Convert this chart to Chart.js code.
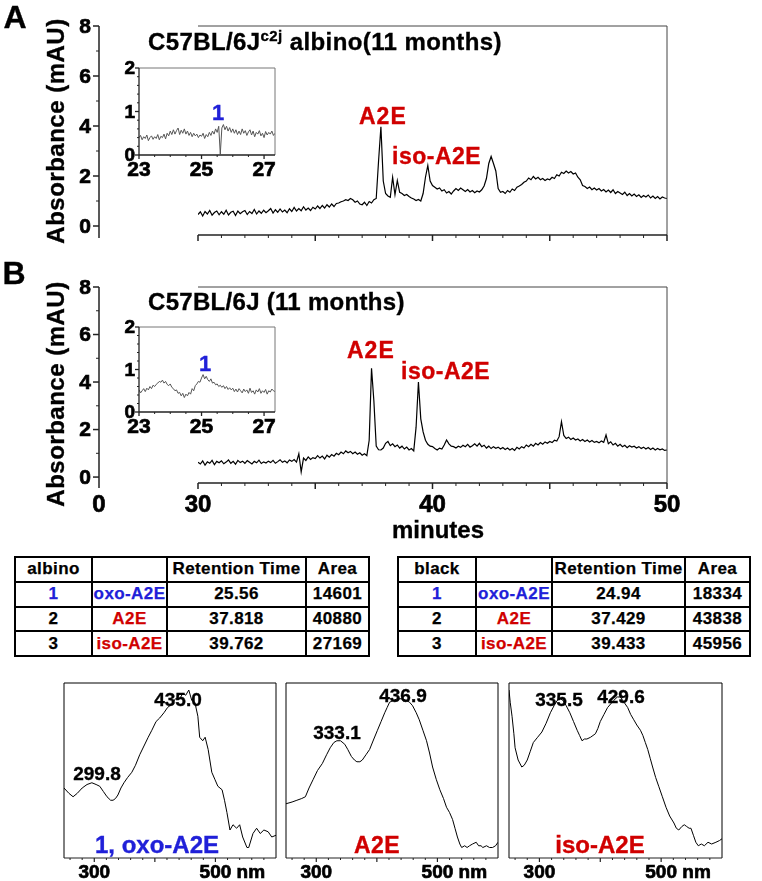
<!DOCTYPE html>
<html>
<head>
<meta charset="utf-8">
<script src="https://cdn.jsdelivr.net/npm/chart.js@4.4.1/dist/chart.umd.min.js"></script>
<style>
body{margin:0;background:#fff;}
#fig{position:relative;width:762px;height:881px;overflow:hidden;background:#fff;
  font-family:"Liberation Sans",Arial,sans-serif;font-weight:bold;color:#000;}
canvas{position:absolute;}
.t,.l{position:absolute;white-space:nowrap;line-height:1;-webkit-text-stroke:0.35px currentColor;}
.t{transform:translate(-50%,-50%);}
.l{transform:translateY(-50%);}
.red{color:#d00000;}
.blue{color:#2020d8;}
table{position:absolute;border-collapse:collapse;table-layout:fixed;font-size:17px;letter-spacing:0.4px;}
td{border:2px solid #000;text-align:center;padding:0;height:24.75px;box-sizing:border-box;-webkit-text-stroke:0.25px currentColor;}
</style>
</head>
<body>
<div id="fig">
  <canvas id="chromA" width="700" height="250" style="left:0px;top:0px"></canvas>
  <canvas id="chromB" width="700" height="280" style="left:0px;top:260px"></canvas>
  <canvas id="insetA" width="200" height="130" style="left:100px;top:55px"></canvas>
  <canvas id="insetB" width="200" height="130" style="left:100px;top:314px"></canvas>
  <canvas id="spec1" width="250" height="211" style="left:40px;top:670px"></canvas>
  <canvas id="spec2" width="250" height="211" style="left:262px;top:670px"></canvas>
  <canvas id="spec3" width="250" height="211" style="left:485px;top:670px"></canvas>

  <div class="t" style="left:15px;top:17px;font-size:32px">A</div>
  <div class="t" style="left:14px;top:273px;font-size:32px">B</div>
  <div class="t" style="left:56px;top:131px;font-size:24px;letter-spacing:0.5px;transform:translate(-50%,-50%) rotate(-90deg)">Absorbance (mAU)</div>
  <div class="t" style="left:56px;top:394px;font-size:24px;letter-spacing:0.5px;transform:translate(-50%,-50%) rotate(-90deg)">Absorbance (mAU)</div>
  <div class="l" style="left:148px;top:42px;font-size:24px;letter-spacing:0.4px">C57BL/6J<span style="font-size:15px;position:relative;top:-9px">c2j</span> albino(11 months)</div>
  <div class="l" style="left:148px;top:302px;font-size:24px;letter-spacing:0.3px">C57BL/6J (11 months)</div>
  <div class="l red" style="left:359px;top:116px;font-size:23px;letter-spacing:1px">A2E</div>
  <div class="l red" style="left:392px;top:156px;font-size:23px;letter-spacing:0.5px">iso-A2E</div>
  <div class="l red" style="left:347px;top:350px;font-size:23px;letter-spacing:1px">A2E</div>
  <div class="l red" style="left:401px;top:371px;font-size:23px;letter-spacing:0.5px">iso-A2E</div>
  <div class="t blue" style="left:218px;top:113px;font-size:22px">1</div>
  <div class="t blue" style="left:205px;top:364px;font-size:22px">1</div>
  <div class="t" style="left:438px;top:530px;font-size:24px">minutes</div>

  <div class="t" style="left:97px;top:773px;font-size:19px">299.8</div>
  <div class="t" style="left:178px;top:699px;font-size:19px">435.0</div>
  <div class="t" style="left:337px;top:732px;font-size:19px">333.1</div>
  <div class="t" style="left:403px;top:695px;font-size:19px">436.9</div>
  <div class="t" style="left:559px;top:699px;font-size:19px">335.5</div>
  <div class="t" style="left:621px;top:696px;font-size:19px">429.6</div>
  <div class="t blue" style="left:157px;top:845px;font-size:24px">1, oxo-A2E</div>
  <div class="t red" style="left:377px;top:845px;font-size:23px;letter-spacing:0.5px">A2E</div>
  <div class="t red" style="left:600px;top:845px;font-size:24px">iso-A2E</div>
</div>

<script>
// ---- chromatogram data (minutes, mAU) ----
const minutes = [
  30.0,30.1,30.2,30.3,30.4,30.5,30.6,30.7,30.8,30.9,
  31.0,31.1,31.2,31.3,31.4,31.5,31.6,31.7,31.8,31.9,
  32.0,32.1,32.2,32.3,32.4,32.5,32.6,32.7,32.8,32.9,
  33.0,33.1,33.2,33.3,33.4,33.5,33.6,33.7,33.8,33.9,
  34.0,34.1,34.2,34.3,34.4,34.5,34.6,34.7,34.8,34.9,
  35.0,35.1,35.2,35.3,35.4,35.5,35.6,35.7,35.8,35.9,
  36.0,36.1,36.2,36.3,36.4,36.5,36.6,36.7,36.8,36.9,
  37.0,37.1,37.2,37.3,37.4,37.5,37.6,37.7,37.8,37.9,
  38.0,38.1,38.2,38.3,38.4,38.5,38.6,38.7,38.8,38.9,
  39.0,39.1,39.2,39.3,39.4,39.5,39.6,39.7,39.8,39.9,
  40.0,40.1,40.2,40.3,40.4,40.5,40.6,40.7,40.8,40.9,
  41.0,41.1,41.2,41.3,41.4,41.5,41.6,41.7,41.8,41.9,
  42.0,42.1,42.2,42.3,42.4,42.5,42.6,42.7,42.8,42.9,
  43.0,43.1,43.2,43.3,43.4,43.5,43.6,43.7,43.8,43.9,
  44.0,44.1,44.2,44.3,44.4,44.5,44.6,44.7,44.8,44.9,
  45.0,45.1,45.2,45.3,45.4,45.5,45.6,45.7,45.8,45.9,
  46.0,46.1,46.2,46.3,46.4,46.5,46.6,46.7,46.8,46.9,
  47.0,47.1,47.2,47.3,47.4,47.5,47.6,47.7,47.8,47.9,
  48.0,48.1,48.2,48.3,48.4,48.5,48.6,48.7,48.8,48.9,
  49.0,49.1,49.2,49.3,49.4,49.5,49.6,49.7,49.8,49.9,
  50.0
];
const albinoTrace = [
  0.46,0.57,0.40,0.58,0.48,0.62,0.43,0.54,0.60,0.45,
  0.57,0.47,0.63,0.44,0.55,0.59,0.42,0.60,0.49,0.57,
  0.62,0.46,0.58,0.50,0.66,0.48,0.60,0.51,0.63,0.53,
  0.61,0.70,0.52,0.65,0.55,0.68,0.56,0.64,0.53,0.69,
  0.58,0.74,0.60,0.70,0.61,0.77,0.64,0.72,0.62,0.75,
  0.68,0.80,0.70,0.82,0.72,0.85,0.76,0.88,0.78,0.90,
  0.92,0.97,1.00,1.05,1.02,1.10,1.05,0.95,1.00,0.88,
  0.85,0.95,0.82,0.98,0.92,1.05,1.10,2.60,3.97,1.80,
  1.30,1.20,1.15,1.95,1.25,1.82,1.35,1.30,1.22,1.26,
  1.18,1.12,1.08,1.02,1.06,1.00,1.30,1.95,2.42,1.80,
  1.62,1.55,1.48,1.52,1.40,1.45,1.32,1.38,1.28,1.40,
  1.50,1.42,1.52,1.45,1.38,1.46,1.36,1.42,1.33,1.40,
  1.36,1.45,1.60,1.90,2.50,2.78,2.50,2.20,1.50,1.35,
  1.38,1.30,1.42,1.35,1.48,1.42,1.55,1.60,1.66,1.75,
  1.80,1.92,1.85,1.98,1.88,1.95,1.85,1.90,1.82,1.88,
  1.85,1.95,1.90,2.05,2.00,2.15,2.10,2.20,2.12,2.18,
  2.08,2.12,1.95,1.85,1.62,1.58,1.50,1.56,1.45,1.52,
  1.44,1.50,1.40,1.46,1.36,1.44,1.34,1.45,1.30,1.38,
  1.32,1.26,1.35,1.22,1.30,1.20,1.28,1.18,1.25,1.14,
  1.22,1.16,1.24,1.12,1.20,1.10,1.18,1.08,1.16,1.12,
  1.10
];
const blackTrace = [
  0.62,0.55,0.68,0.50,0.64,0.58,0.70,0.52,0.66,0.60,
  0.68,0.56,0.63,0.72,0.58,0.66,0.54,0.70,0.61,0.67,
  0.58,0.69,0.62,0.55,0.66,0.60,0.71,0.57,0.64,0.59,
  0.67,0.61,0.70,0.58,0.65,0.73,0.62,0.68,0.60,0.72,
  0.66,0.74,0.63,0.98,0.22,0.80,0.70,0.85,0.74,0.82,
  0.78,0.90,0.80,0.88,0.76,0.92,0.84,0.95,0.88,1.00,
  0.94,1.05,0.98,1.10,1.02,1.08,0.98,1.05,0.96,1.02,
  0.92,0.98,0.90,1.55,4.58,3.20,1.30,1.15,1.14,1.22,
  1.42,1.50,1.32,1.40,1.28,1.35,1.22,1.30,1.18,1.26,
  1.14,1.20,1.10,2.10,4.00,2.45,1.90,1.55,1.38,1.30,
  1.28,1.20,1.14,1.22,1.18,1.35,1.56,1.40,1.30,1.28,
  1.22,1.30,1.25,1.34,1.28,1.38,1.26,1.32,1.40,1.30,
  1.42,1.28,1.34,1.22,1.30,1.20,1.28,1.21,1.26,1.18,
  1.24,1.16,1.22,1.14,1.20,1.12,1.25,1.18,1.28,1.22,
  1.35,1.28,1.38,1.30,1.42,1.35,1.45,1.38,1.48,1.42,
  1.50,1.45,1.55,1.52,1.70,2.33,1.75,1.62,1.68,1.58,
  1.64,1.56,1.60,1.52,1.58,1.50,1.56,1.48,1.54,1.46,
  1.50,1.44,1.52,1.46,1.77,1.40,1.48,1.35,1.42,1.30,
  1.38,1.28,1.34,1.24,1.32,1.26,1.30,1.22,1.28,1.20,
  1.26,1.18,1.24,1.16,1.22,1.14,1.20,1.15,1.18,1.12,
  1.14
];

// ---- inset data (23-27 min zoom) ----
const insetMinutes = [
  23.00,23.05,23.10,23.15,23.20,23.25,23.30,23.35,23.40,23.45,
  23.50,23.55,23.60,23.65,23.70,23.75,23.80,23.85,23.90,23.95,
  24.00,24.05,24.10,24.15,24.20,24.25,24.30,24.35,24.40,24.45,
  24.50,24.55,24.60,24.65,24.70,24.75,24.80,24.85,24.90,24.95,
  25.00,25.05,25.10,25.15,25.20,25.25,25.30,25.35,25.40,25.45,
  25.50,25.55,25.60,25.65,25.70,25.75,25.80,25.85,25.90,25.95,
  26.00,26.05,26.10,26.15,26.20,26.25,26.30,26.35,26.40,26.45,
  26.50,26.55,26.60,26.65,26.70,26.75,26.80,26.85,26.90,26.95,
  27.00,27.05,27.10,27.15,27.20,27.25,27.30,27.35
];
const albinoInset = [
  0.40,0.45,0.35,0.42,0.38,0.46,0.33,0.40,0.44,0.36,
  0.42,0.38,0.47,0.35,0.43,0.40,0.48,0.37,0.50,0.44,
  0.55,0.47,0.58,0.48,0.56,0.62,0.47,0.57,0.50,0.60,
  0.48,0.55,0.45,0.52,0.42,0.50,0.44,0.48,0.40,0.46,
  0.43,0.50,0.38,0.47,0.42,0.52,0.45,0.55,0.48,0.60,
  0.52,0.66,0.02,0.62,0.70,0.58,0.66,0.55,0.63,0.52,
  0.60,0.50,0.58,0.47,0.55,0.47,0.60,0.50,0.56,0.45,
  0.53,0.58,0.46,0.55,0.42,0.52,0.48,0.56,0.44,0.50,
  0.40,0.54,0.46,0.52,0.48,0.55,0.45,0.50
];
const blackInset = [
  0.52,0.45,0.50,0.55,0.48,0.56,0.52,0.60,0.55,0.63,
  0.60,0.65,0.68,0.72,0.70,0.75,0.68,0.72,0.65,0.62,
  0.66,0.58,0.55,0.50,0.52,0.44,0.46,0.38,0.44,0.34,
  0.42,0.38,0.46,0.42,0.55,0.50,0.62,0.66,0.72,0.70,
  0.80,0.88,0.78,0.84,0.76,0.72,0.78,0.68,0.70,0.64,
  0.66,0.60,0.63,0.58,0.62,0.55,0.60,0.53,0.57,0.52,
  0.56,0.48,0.54,0.47,0.55,0.50,0.45,0.54,0.48,0.52,
  0.44,0.56,0.46,0.50,0.42,0.52,0.47,0.55,0.44,0.50,
  0.46,0.53,0.42,0.50,0.47,0.54,0.50,0.48
];

// ---- UV-vis spectra (nm, normalised absorbance) ----
const oxoNm = [250,258,265,272,280,288,296,303,309,315,321,327,331,335,339,344,349,355,362,368,375,382,389,395,402,408,415,421,428,434,441,446,451,456,461,466,471,474,479,483,488,494,499,504,511,515,519,524,529,535,540,545,552,555,562,568,574,580,587,593,600];
const oxoAbs = [0.40,0.37,0.35,0.37,0.40,0.42,0.43,0.42,0.41,0.38,0.35,0.33,0.33,0.34,0.36,0.40,0.43,0.46,0.49,0.53,0.59,0.64,0.69,0.73,0.78,0.80,0.83,0.86,0.88,0.91,0.91,0.94,0.93,0.96,0.90,0.89,0.81,0.69,0.67,0.69,0.62,0.49,0.45,0.41,0.39,0.33,0.26,0.16,0.19,0.17,0.19,0.12,0.06,0.06,0.14,0.17,0.14,0.16,0.15,0.12,0.13];
const a2eNm = [250,260,268,276,282,288,295,302,310,317,323,329,334,340,347,352,358,363,367,372,376,382,388,395,401,407,413,417,421,427,434,441,449,454,459,465,470,476,482,487,492,498,504,510,515,520,525,529,533,537,540,545,549,553,558,564,568,572,575,581,586,591,596,600];
const a2eAbs = [0.31,0.32,0.33,0.34,0.35,0.40,0.45,0.50,0.54,0.59,0.63,0.66,0.67,0.67,0.65,0.62,0.58,0.56,0.55,0.55,0.56,0.59,0.62,0.68,0.73,0.78,0.83,0.86,0.89,0.90,0.91,0.91,0.90,0.89,0.87,0.83,0.79,0.73,0.67,0.60,0.52,0.45,0.39,0.34,0.29,0.26,0.22,0.17,0.12,0.08,0.06,0.07,0.06,0.07,0.08,0.09,0.07,0.07,0.06,0.07,0.06,0.06,0.07,0.09];
const isoNm = [250,252,255,258,260,265,271,275,280,285,290,297,304,311,318,324,329,334,339,344,350,356,362,366,370,374,378,384,388,392,396,400,406,412,417,422,428,433,439,445,450,455,460,466,470,474,478,482,486,491,496,502,508,514,521,525,529,534,538,542,546,549,553,557,561,566,571,577,583,590,596,600];
const isoAbs = [0.96,0.89,0.81,0.71,0.63,0.56,0.52,0.53,0.56,0.61,0.66,0.69,0.72,0.77,0.83,0.87,0.90,0.91,0.90,0.87,0.83,0.78,0.73,0.70,0.67,0.68,0.68,0.69,0.70,0.71,0.74,0.78,0.82,0.86,0.88,0.90,0.92,0.92,0.89,0.86,0.82,0.79,0.76,0.73,0.70,0.66,0.62,0.57,0.52,0.46,0.41,0.35,0.29,0.24,0.20,0.17,0.16,0.18,0.19,0.18,0.17,0.17,0.13,0.09,0.07,0.08,0.07,0.09,0.08,0.09,0.10,0.11];

// ---- ticks ----
const chromYTicks = [0, 2, 4, 6, 8];
const chromYMinor = [1, 3, 5, 7];
const chromXMajor = [30, 35, 40, 45, 50];
const chromXMinor = [31, 32, 33, 34, 36, 37, 38, 39, 41, 42, 43, 44, 46, 47, 48, 49];
const chromXLabels = [30, 40, 50];
const insetYTicks = [0, 1, 2];
const insetYMinor = [0.2, 0.4, 0.6, 0.8, 1.2, 1.4, 1.6, 1.8];
const insetXTicks = [23, 25, 27];
const insetXMinor = [23.5, 24, 24.5, 25.5, 26, 26.5];
const specXMajor = [300, 400, 500];
const specXMinor = [260, 280, 320, 340, 360, 380, 420, 440, 460, 480, 520, 540, 560, 580];

// ---- peak tables ----
const tableHead = ['Retention Time', 'Area'];
const peakNames = ['oxo-A2E', 'A2E', 'iso-A2E'];
const albinoRT = ['25.56', '37.818', '39.762'];
const albinoArea = ['14601', '40880', '27169'];
const blackRT = ['24.94', '37.429', '39.433'];
const blackArea = ['18334', '43838', '45956'];

const FONT = '"Liberation Sans", Arial, sans-serif';
const AXIS = '#222';

// draws the axes / frame from the chart's own scales
const axesPlugin = {
    id: 'axes',
    afterDatasetsDraw(chart, args, o) {
        const {ctx, chartArea: a, scales: {x, y}} = chart;
        const seg = (x1, y1, x2, y2, w, c) => {
            ctx.beginPath();
            ctx.lineWidth = w;
            ctx.strokeStyle = c;
            ctx.moveTo(x1, y1);
            ctx.lineTo(x2, y2);
            ctx.stroke();
        };
        // bold text with a thin outline so it reads as heavy as the figure
        const text = (s, px, py) => {
            ctx.lineWidth = 0.7;
            ctx.strokeStyle = '#000';
            ctx.fillText(s, px, py);
            ctx.strokeText(s, px, py);
        };
        ctx.save();

        if (o.box) {
            seg(a.left, a.top, a.right, a.top, o.box.w, o.box.c);
            seg(a.right, a.top, a.right, a.bottom, o.box.w, o.box.c);
            if (o.box.left) seg(a.left, a.top, a.left, a.bottom, o.box.w, o.box.c);
        }

        const ax = a.left - (o.yShift || 0);
        if (o.yAxis) {
            const ya = o.yAxis;
            seg(ax, y.getPixelForValue(y.max), ax, a.bottom + (ya.extend || 0), ya.w, AXIS);
            ya.minor.forEach(v => {
                const py = y.getPixelForValue(v);
                seg(ax - ya.minorLen, py, ax, py, 1, AXIS);
            });
            ya.major.forEach(v => {
                const py = y.getPixelForValue(v);
                seg(ax - ya.len, py, ax, py, ya.w, AXIS);
            });
            ctx.font = 'bold ' + ya.size + 'px ' + FONT;
            ctx.fillStyle = '#000';
            ctx.textAlign = 'right';
            ctx.textBaseline = 'middle';
            ya.major.forEach(v => text(String(v), ax - ya.gap, y.getPixelForValue(v) + 1));
        }

        if (o.xAxis) {
            const xa = o.xAxis;
            seg(a.left, a.bottom, a.right, a.bottom, xa.w, AXIS);
            xa.minor.forEach(v => {
                const px = x.getPixelForValue(v);
                seg(px, a.bottom, px, a.bottom + xa.minorLen, 1, AXIS);
            });
            xa.major.forEach(v => {
                const px = x.getPixelForValue(v);
                seg(px, a.bottom, px, a.bottom + xa.len, xa.w, AXIS);
            });
            if (xa.labels) {
                ctx.font = 'bold ' + xa.size + 'px ' + FONT;
                ctx.fillStyle = '#000';
                ctx.textBaseline = 'middle';
                const ly = a.bottom + xa.gap;
                xa.labels.forEach(v => {
                    const px = x.getPixelForValue(v);
                    if (xa.unit && v === xa.unitAt) {
                        ctx.textAlign = 'left';
                        text(v + ' ' + xa.unit, px - ctx.measureText(String(v)).width / 2, ly);
                    } else {
                        ctx.textAlign = 'center';
                        text(String(v), px, ly);
                    }
                });
                if (xa.zeroAtYAxis) {
                    ctx.textAlign = 'center';
                    text('0', ax, ly);
                }
            }
        }
        ctx.restore();
    }
};

function lineChart(id, xs, ys, cfg) {
    return new Chart(document.getElementById(id), {
        type: 'line',
        data: {
            datasets: [{
                data: xs.map((v, i) => ({x: v, y: ys[i]})),
                borderColor: cfg.color,
                borderWidth: cfg.width,
                pointRadius: 0,
                tension: 0,
            }]
        },
        options: {
            responsive: false,
            animation: false,
            events: [],
            layout: {padding: cfg.pad},
            scales: {
                x: {type: 'linear', min: cfg.xMin, max: cfg.xMax, display: false},
                y: {min: cfg.yMin, max: cfg.yMax, display: false},
            },
            plugins: {
                legend: {display: false},
                tooltip: {enabled: false},
                axes: cfg.axes,
            },
        },
        plugins: [axesPlugin],
    });
}

const chromBox = {w: 1, c: '#444'};
const chromYAxis = (ext) => ({major: chromYTicks, minor: chromYMinor, len: 6, minorLen: 3, w: 1.5, size: 21, gap: 8, extend: ext});

lineChart('chromA', minutes, albinoTrace, {
    color: '#000', width: 1.2,
    pad: {left: 198, right: 33, top: 26, bottom: 15},
    xMin: 30, xMax: 50, yMin: -0.36, yMax: 8,
    axes: {
        box: chromBox, yShift: 99, yAxis: chromYAxis(3),
        xAxis: {major: chromXMajor, minor: chromXMinor, len: 6, minorLen: 3, w: 1.5},
    },
});

lineChart('chromB', minutes, blackTrace, {
    color: '#000', width: 1.2,
    pad: {left: 198, right: 33, top: 27, bottom: 57},
    xMin: 30, xMax: 50, yMin: -0.25, yMax: 8,
    axes: {
        box: chromBox, yShift: 99, yAxis: chromYAxis(5),
        xAxis: {major: chromXMajor, minor: chromXMinor, len: 6, minorLen: 3, w: 1.5,
                labels: chromXLabels, size: 24, gap: 22, zeroAtYAxis: true},
    },
});

const insetAxes = {
    box: {w: 1, c: '#777'},
    yAxis: {major: insetYTicks, minor: insetYMinor, len: 4, minorLen: 2, w: 1.3, size: 19, gap: 4, extend: 0},
    xAxis: {major: insetXTicks, minor: insetXMinor, len: 4, minorLen: 2, w: 1.3,
            labels: insetXTicks, size: 21, gap: 15},
};

lineChart('insetA', insetMinutes, albinoInset, {
    color: '#555', width: 1,
    pad: {left: 39, right: 25, top: 13, bottom: 30},
    xMin: 23, xMax: 27.35, yMin: 0, yMax: 2,
    axes: insetAxes,
});

lineChart('insetB', insetMinutes, blackInset, {
    color: '#555', width: 1,
    pad: {left: 39, right: 25, top: 13, bottom: 32},
    xMin: 23, xMax: 27.35, yMin: 0, yMax: 2,
    axes: insetAxes,
});

const specAxes = {
    box: {w: 1, c: '#000', left: true},
    xAxis: {major: specXMajor, minor: specXMinor, len: 4, minorLen: 2, w: 1.2,
            labels: [300, 500], size: 19, gap: 15, unit: 'nm', unitAt: 500},
};
const specPad = (right) => ({left: 24, right: right, top: 13, bottom: 23});

lineChart('spec1', oxoNm, oxoAbs, {
    color: '#000', width: 1, pad: specPad(14),
    xMin: 250, xMax: 600, yMin: 0, yMax: 1, axes: specAxes,
});
lineChart('spec2', a2eNm, a2eAbs, {
    color: '#000', width: 1, pad: specPad(14),
    xMin: 250, xMax: 600, yMin: 0, yMax: 1, axes: specAxes,
});
lineChart('spec3', isoNm, isoAbs, {
    color: '#000', width: 1, pad: specPad(13),
    xMin: 250, xMax: 600, yMin: 0, yMax: 1, axes: specAxes,
});

// peak tables
function buildTable(left, widths, first, rt, area) {
    const tbl = document.createElement('table');
    tbl.style.left = left + 'px';
    tbl.style.top = '556px';
    tbl.style.width = widths.reduce((s, w) => s + w, 0) + 'px';
    const cg = document.createElement('colgroup');
    widths.forEach(w => {
        const c = document.createElement('col');
        c.style.width = w + 'px';
        cg.appendChild(c);
    });
    tbl.appendChild(cg);
    const row = (cells) => {
        const tr = document.createElement('tr');
        cells.forEach(([txt, cls]) => {
            const td = document.createElement('td');
            td.textContent = txt;
            if (cls) td.className = cls;
            tr.appendChild(td);
        });
        tbl.appendChild(tr);
    };
    row([[first], [''], [tableHead[0]], [tableHead[1]]]);
    peakNames.forEach((name, i) => {
        row([[String(i + 1), i === 0 ? 'blue' : ''], [name, i === 0 ? 'blue' : 'red'], [rt[i]], [area[i]]]);
    });
    document.getElementById('fig').appendChild(tbl);
}
buildTable(14, [77, 75, 139, 63], 'albino', albinoRT, albinoArea);
buildTable(397, [78, 76, 133, 65], 'black', blackRT, blackArea);
</script>
</body>
</html>
